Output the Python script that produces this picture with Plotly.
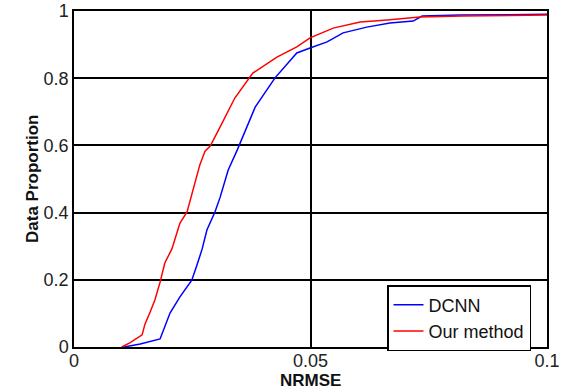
import plotly.graph_objects as go

# Cumulative proportion of samples whose NRMSE falls below each threshold
dcnn_nrmse = [0.0106, 0.0140, 0.0182, 0.0192, 0.0203, 0.0224, 0.0249, 0.0260, 0.0271,
              0.0281, 0.0298, 0.0309, 0.0326, 0.0345, 0.0383, 0.0425, 0.0471, 0.0499,
              0.0535, 0.0569, 0.0619, 0.0668, 0.0717, 0.0736, 0.0816, 0.1000]
dcnn_prop = [0.000, 0.009, 0.024, 0.060, 0.101, 0.149, 0.199, 0.244, 0.292,
             0.348, 0.402, 0.446, 0.527, 0.586, 0.714, 0.801, 0.875, 0.890,
             0.908, 0.935, 0.952, 0.964, 0.970, 0.985, 0.988, 0.990]

ours_nrmse = [0.0101, 0.0118, 0.0144, 0.0150, 0.0161, 0.0171, 0.0182, 0.0192, 0.0207,
              0.0224, 0.0239, 0.0252, 0.0266, 0.0277, 0.0288, 0.0309, 0.0340, 0.0378,
              0.0429, 0.0471, 0.0499, 0.0548, 0.0605, 0.0662, 0.0731, 0.0822, 0.0928, 0.1000]
ours_prop = [0.000, 0.012, 0.036, 0.068, 0.104, 0.140, 0.193, 0.250, 0.292,
             0.369, 0.402, 0.467, 0.542, 0.583, 0.598, 0.655, 0.741, 0.815,
             0.863, 0.893, 0.920, 0.949, 0.967, 0.973, 0.982, 0.985, 0.988, 0.988]

x_ticks = [0, 0.05, 0.1]
x_tick_text = ["0", "0.05", "0.1"]
y_ticks = [0, 0.2, 0.4, 0.6, 0.8, 1]
y_tick_text = ["0", "0.2", "0.4", "0.6", "0.8", "1"]

W, H = 562, 391
L, R, T, B = 74, 15, 11, 44
font_family = "Liberation Sans, Arial, sans-serif"

fig = go.Figure()
fig.add_trace(go.Scatter(x=dcnn_nrmse, y=dcnn_prop, mode="lines", name="DCNN",
                         line=dict(color="#0000ff", width=1.5)))
fig.add_trace(go.Scatter(x=ours_nrmse, y=ours_prop, mode="lines", name="Our method",
                         line=dict(color="#ff0000", width=1.5)))

axis_common = dict(showline=True, linecolor="black", linewidth=1.5, mirror=True,
                   showgrid=True, gridcolor="black", gridwidth=1.5, zeroline=False,
                   automargin=False, ticks="",
                   tickfont=dict(family=font_family, size=18, color="#222"))

fig.update_xaxes(range=[0, 0.1], tickvals=x_ticks, ticktext=x_tick_text,
                 ticklabelstandoff=-3, **axis_common)
fig.update_yaxes(range=[0, 1], tickvals=y_ticks, ticktext=y_tick_text, **axis_common)

fig.update_layout(
    width=W, height=H,
    margin=dict(l=L, r=R, t=T, b=B, autoexpand=False),
    paper_bgcolor="white", plot_bgcolor="white",
    font=dict(family=font_family, size=18, color="black"),
    legend=dict(x=(387 - L) / (W - L - R), y=(H - B - 285) / (H - T - B),
                xanchor="left", yanchor="top",
                bordercolor="black", borderwidth=1.5, bgcolor="white",
                font=dict(family=font_family, size=18, color="#111"),
                tracegroupgap=0, itemwidth=30),
    annotations=[
        dict(text="<b>NRMSE</b>", xref="paper", yref="paper", x=0.5, y=0,
             xanchor="center", yanchor="middle", yshift=-33, showarrow=False,
             font=dict(family=font_family, size=17, color="#111")),
        dict(text="<b>Data Proportion</b>", xref="paper", yref="paper", x=0, y=0.5,
             xanchor="center", yanchor="middle", xshift=-42, textangle=-90, showarrow=False,
             font=dict(family=font_family, size=17, color="#111")),
    ],
)

fig.write_html("out.html")
